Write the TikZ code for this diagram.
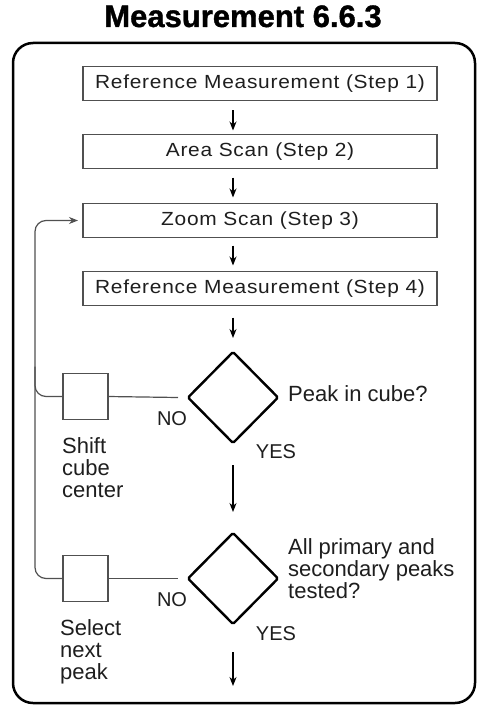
\documentclass[tikz,border=0pt]{standalone}
\usepackage{fontspec}
\setmainfont{Liberation Sans}
\newfontfamily\boxfont[LetterSpace=4,FakeStretch=1.1]{Liberation Sans}
\newfontfamily\titlefont[FakeBold=1.2]{Liberation Sans Bold}
\usetikzlibrary{shapes.geometric,arrows.meta}
\definecolor{ink}{HTML}{1E1E1E}
\definecolor{grayline}{HTML}{505050}
\begin{document}
\begin{tikzpicture}[x=1pt,y=-1pt,
  stepbox/.style={draw=grayline, line width=1.4pt, minimum width=354pt, minimum height=34pt, inner sep=0pt, outer sep=0pt,
    font=\boxfont\fontsize{19}{19}\selectfont, text=ink},
  smallbox/.style={draw=grayline, line width=1.2pt, minimum width=45pt, minimum height=46pt, inner sep=0pt, outer sep=0pt},
  decision/.style={diamond, draw=black, line width=2.4pt, minimum width=90pt, minimum height=91pt, inner sep=0pt, outer sep=0pt, rounded corners=1.5pt},
  lbl/.style={font=\fontsize{22}{22}\selectfont, text=ink, inner sep=0pt, align=left},
  yn/.style={font=\fontsize{20}{20}\selectfont, text=ink, inner sep=0pt},
  arr/.style={draw=black, line width=1.2pt, -{Stealth[length=9pt,width=7pt]}},
  link/.style={draw=grayline, line width=1.2pt}
]
\useasboundingbox (0,0) rectangle (477,706);
% title
\node[anchor=base, inner sep=0pt, font=\titlefont\fontsize{31}{31}\selectfont, text=black] (title) at (243,27) {Measurement 6.6.3};
% frame
\draw[line width=2.5pt, rounded corners=20pt] (13,43) rectangle (475,703);
% steps
\node[stepbox] (s1) at (260,83.5) {Reference Measurement (Step 1)};
\node[stepbox] (s2) at (260,151.5) {Area Scan (Step 2)};
\node[stepbox] (s3) at (260,220.5) {Zoom Scan (Step 3)};
\node[stepbox] (s4) at (260,288.5) {Reference Measurement (Step 4)};
% decisions
\node[decision] (d1) at (233,397.5) {};
\node[decision] (d2) at (233,578.5) {};
\coordinate (end) at (233,686);
% side boxes
\node[smallbox] (b1) at (85.5,396.5) {};
\node[smallbox] (b2) at (85.5,578.5) {};
% arrows
\draw[arr, shorten <=10pt, shorten >=4pt] (s1.south -| d1.north) -- (s2.north -| d1.north);
\draw[arr, shorten <=9pt, shorten >=6pt] (s2.south -| d1.north) -- (s3.north -| d1.north);
\draw[arr, shorten <=8pt, shorten >=6pt] (s3.south -| d1.north) -- (s4.north -| d1.north);
\draw[arr, shorten <=12pt, shorten >=14pt] (s4.south -| d1.north) -- (d1.north);
\draw[arr, shorten <=22pt, shorten >=21pt] (d1.south) -- (d2.north);
\draw[arr, shorten <=28pt] (d2.south) -- (end);
% links
\draw[link] (b1.east) -- ([xshift=-10pt]d1.west);
\draw[link] (b2.east) -- ([xshift=-10pt]d2.west);
\draw[link, rounded corners=11pt] (b1.west) -| ([xshift=-28pt,yshift=30pt]b1.west);
\draw[link, rounded corners=11pt, -{Stealth[length=9pt,width=7pt]}, shorten >=5pt] (b2.west) -| ([xshift=-48pt]s3.west) -- (s3.west);
% labels
\node[lbl, anchor=base west] (q1) at (288,401) {Peak in cube?};
\node[lbl, anchor=north west] (q2) at (288,538) {All primary and\\secondary peaks\\tested?};
\node[lbl, anchor=north west] (t1) at (62,437) {Shift\\cube\\center};
\node[lbl, anchor=north west] (t2) at (60,619) {Select\\next\\peak};
\node[yn] (n1) at (172,419) {NO};
\node[yn] (y1) at (276,452) {YES};
\node[yn] (n2) at (172,600) {NO};
\node[yn] (y2) at (276,634) {YES};
\end{tikzpicture}
\end{document}
